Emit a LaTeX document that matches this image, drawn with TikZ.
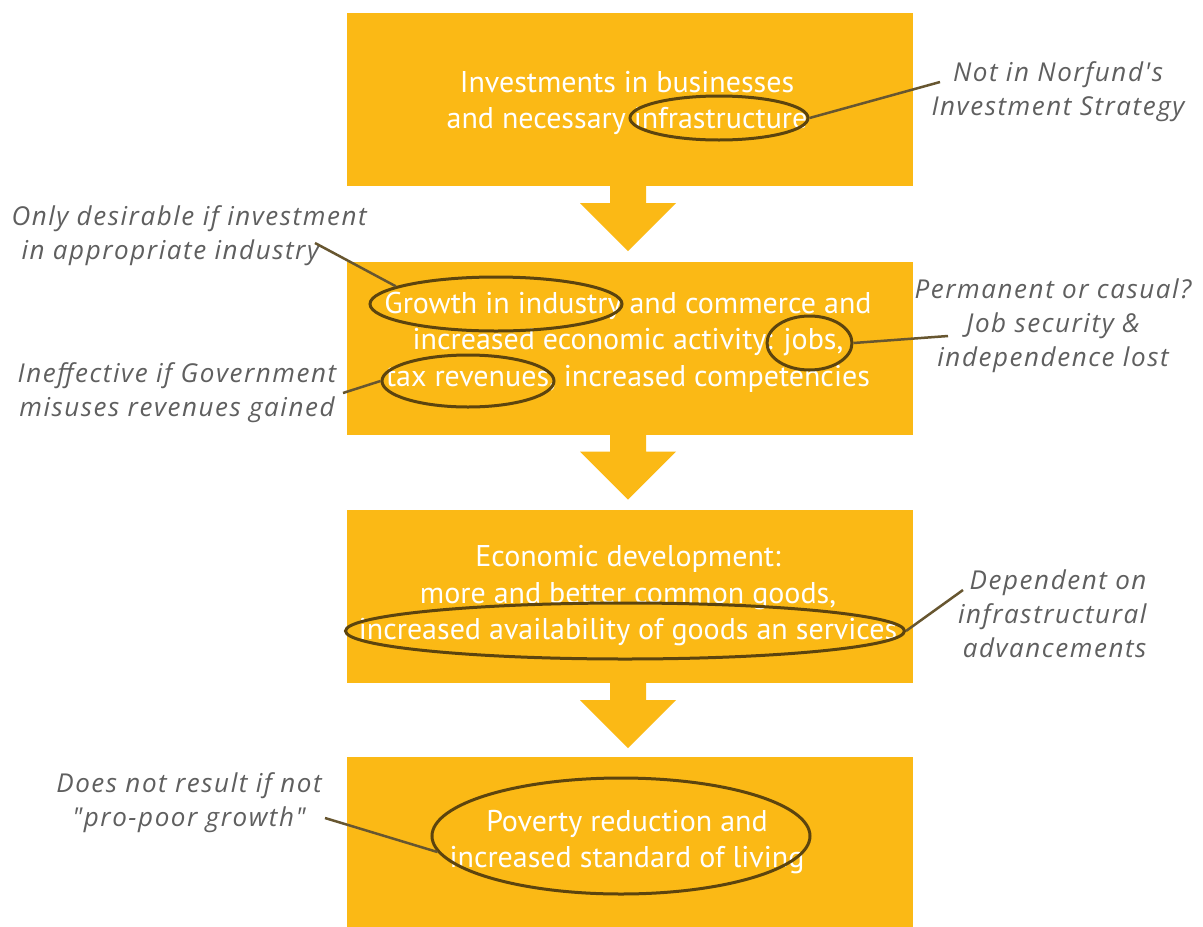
\documentclass[tikz,border=0pt]{standalone}
\usepackage{fontspec}
\setmainfont{PT Sans}
\newfontfamily\handfont[LetterSpace=6]{Open Sans}
\usetikzlibrary{positioning, shapes.geometric}

\definecolor{boxfill}{RGB}{251,185,21}
\definecolor{ringcol}{RGB}{92,68,14}
\definecolor{notecol}{RGB}{95,95,95}

\tikzset{
  stepbox/.style={fill=boxfill, minimum width=566pt, minimum height=173pt, inner sep=0pt},
  boxtext/.style={text=white, align=center, font=\fontsize{30}{36.5}\selectfont},
  ring/.style={draw=ringcol, line width=3pt, ellipse, inner sep=0pt},
  note/.style={text=notecol, font=\handfont\itshape\fontsize{26}{34}\selectfont},
  lead/.style={draw=ringcol!70!gray, line width=2.5pt},
}

\begin{document}
\begin{tikzpicture}[x=1pt, y=-1pt]
    \fill[white] (0,0) rectangle (1203,927);
    \useasboundingbox (0,0) rectangle (1203,927);

    % the four steps
    \node[stepbox] (invest) at (630,99.5) {};
    \node[stepbox] (growth) at (630,348) {};
    \node[stepbox] (develop) at (630,596.5) {};
    \node[stepbox] (poverty) at (630,843.5) {};

    % block arrows between the steps
    \coordinate (axis) at (628,0);
    \foreach \a in {invest, growth, develop}
        \fill[boxfill] (\a.south -| axis) ++(-18,0) -- ++(0,17) -- ++(-30,0)
            -- ++(48,48) -- ++(48,-48) -- ++(-30,0) -- ++(0,-17) -- cycle;

    \node[boxtext] (investtext) at (627,103) {Investments in businesses\\and necessary infrastructure};
    \node[boxtext] (growthtext) at (628,342) {Growth in industry and commerce and\\increased economic activity: jobs,\\tax revenues, increased competencies};
    \node[boxtext] (developtext) at (628,596) {Economic development:\\more and better common goods,\\increased availability of goods an services};
    \node[boxtext] (povertytext) at (627,842) {Poverty reduction and\\increased standard of living};

    % circled words
    \node[ring, minimum width=178pt, minimum height=44pt] (infraring) at (719,118) {};
    \node[ring, minimum width=252pt, minimum height=54pt] (growthring) at (496,304) {};
    \node[ring, minimum width=85pt, minimum height=54pt] (jobsring) at (809.5,343) {};
    \node[ring, minimum width=172pt, minimum height=52pt] (taxring) at (468,381) {};
    \node[ring, minimum width=559pt, minimum height=56pt] (availring) at (625,631) {};
    \node[ring, minimum width=378pt, minimum height=116pt] (povring) at (621,836) {};

    % remarks
    \node[note, align=center] (norfund) at (1058,92) {Not in Norfund's\\Investment Strategy};
    \node[note, align=left, anchor=west] (desirable) at (8,236) {Only desirable if investment\\\hspace{10pt}in appropriate industry};
    \node[note, align=center] (casual) at (1053,326) {Permanent or casual?\\Job security \&\\independence lost};
    \node[note, align=center] (ineffective) at (177,393) {Ineffective if Government\\misuses revenues gained};
    \node[note, align=right, anchor=east] (dependent) at (1150,614) {Dependent on\\infrastructural\\advancements};
    \node[note, align=center] (propoor) at (189,803) {Does not result if not\\"pro-poor growth"};

    \coordinate (norfundend) at (940,82);
    \coordinate (desirableend) at (315,243);
    \coordinate (casualend) at (948,336);
    \coordinate (ineffectiveend) at (343,393);
    \coordinate (dependentend) at (963,590);
    \coordinate (propoorend) at (325,818);

    \draw[lead] (infraring.east) -- (norfundend);
    \draw[lead] (desirableend) -- (growthring.170);
    \draw[lead] (jobsring.east) -- (casualend);
    \draw[lead] (ineffectiveend) -- (taxring.west);
    \draw[lead] (availring.east) -- (dependentend);
    \draw[lead] (propoorend) -- (povring.185);
\end{tikzpicture}
\end{document}
